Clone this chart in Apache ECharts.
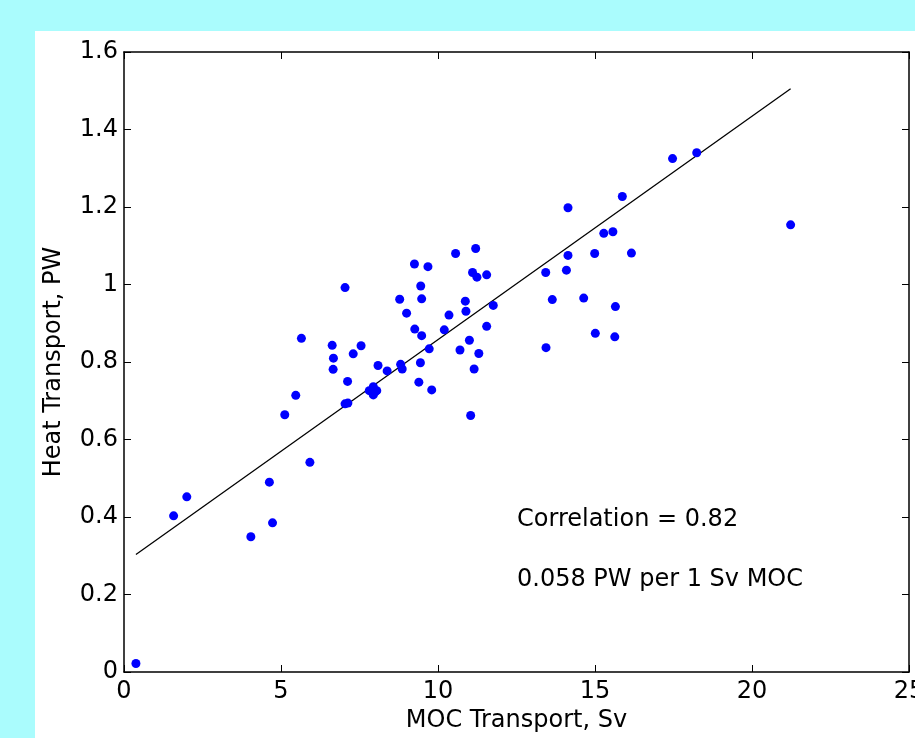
<!DOCTYPE html>
<html>
<head>
<meta charset="utf-8">
<title>MOC vs Heat Transport</title>
<script src="https://cdn.jsdelivr.net/npm/echarts@6/dist/echarts.min.js"></script>
<style>
	html, body { margin: 0; padding: 0; background: #aafcfd; }
	#main { width: 915px; height: 738px; }
</style>
</head>
<body>
<div id="main"></div>
<script>
// MOC transport (Sv) and heat transport (PW) for each point
var mocSv = [0.38, 1.58, 2.0, 4.04, 4.63, 4.73, 5.12, 5.47, 5.92, 5.65,
	6.63, 6.67, 6.66, 7.04, 7.30, 7.55, 7.12, 7.04, 7.13, 7.81,
	7.94, 8.0, 7.94, 8.05, 8.09, 8.38, 8.78, 8.81, 8.86, 9.0,
	9.25, 9.68, 9.45, 9.48, 9.26, 9.48, 9.44, 9.39, 9.72, 9.8,
	10.2, 10.35, 10.56, 10.7, 10.87, 10.89, 11.0, 11.04, 11.1, 11.2,
	11.24, 11.15, 11.3, 11.55, 11.55, 11.76, 13.43, 13.44, 13.64, 14.09,
	14.14, 14.14, 14.64, 14.99, 15.01, 15.28, 15.57, 15.65, 15.63, 15.87,
	16.16, 17.47, 18.24, 21.23];
var heatPW = [0.022, 0.403, 0.452, 0.349, 0.490, 0.385, 0.664, 0.714, 0.541, 0.861,
	0.843, 0.810, 0.781, 0.992, 0.821, 0.842, 0.750, 0.692, 0.694, 0.726,
	0.736, 0.723, 0.715, 0.726, 0.791, 0.777, 0.962, 0.794, 0.782, 0.926,
	1.053, 1.046, 0.996, 0.963, 0.885, 0.868, 0.798, 0.748, 0.834, 0.728,
	0.883, 0.921, 1.080, 0.831, 0.957, 0.931, 0.856, 0.662, 1.031, 1.093,
	1.019, 0.782, 0.822, 1.025, 0.892, 0.946, 1.031, 0.837, 0.961, 1.037,
	1.075, 1.198, 0.965, 1.080, 0.874, 1.132, 1.136, 0.943, 0.865, 1.227,
	1.081, 1.325, 1.340, 1.154];

// regression line end points
var fitX = [0.38, 21.23];
var fitY = [0.303, 1.505];

var xTicks = [0, 5, 10, 15, 20, 25];
var yTicks = [0, 0.2, 0.4, 0.6, 0.8, 1, 1.2, 1.4, 1.6];

var notes = ['Correlation = 0.82', '0.058 PW per 1 Sv MOC'];

(function() {
	var myChart = echarts.init(document.getElementById('main'));

	var points = mocSv.map(function(x, i) { return [x, heatPW[i]]; });
	var fitLine = fitX.map(function(x, i) { return [x, fitY[i]]; });

	var font = 'DejaVu Sans';
	var lineStyle = { color: '#000', width: 1.5 };

	function axisX(pos, showLabel) {
		return {
			type: 'value',
			position: pos,
			min: xTicks[0],
			max: xTicks[xTicks.length - 1],
			interval: xTicks[1] - xTicks[0],
			splitLine: { show: false },
			axisLine: { show: true, onZero: false, lineStyle: lineStyle },
			axisTick: { show: true, inside: true, length: 7, lineStyle: { color: '#000', width: 1 } },
			axisLabel: { show: showLabel, color: '#000', fontFamily: font, fontSize: 24, margin: 8 }
		};
	}

	function axisY(pos, showLabel) {
		return {
			type: 'value',
			position: pos,
			min: yTicks[0],
			max: yTicks[yTicks.length - 1],
			interval: 0.2,
			splitLine: { show: false },
			axisLine: { show: true, onZero: false, lineStyle: lineStyle },
			axisTick: { show: true, inside: true, length: 7, lineStyle: { color: '#000', width: 1 } },
			axisLabel: { show: showLabel, color: '#000', fontFamily: font, fontSize: 24, margin: 6 }
		};
	}

	var xMain = axisX('bottom', true);
	xMain.name = 'MOC Transport, Sv';
	xMain.nameLocation = 'middle';
	xMain.nameGap = 34;
	xMain.nameTextStyle = { color: '#000', fontFamily: font, fontSize: 24 };

	var yMain = axisY('left', true);
	yMain.name = 'Heat Transport, PW';
	yMain.nameLocation = 'middle';
	yMain.nameGap = 58;
	yMain.nameTextStyle = { color: '#000', fontFamily: font, fontSize: 24 };

	var option = {
		backgroundColor: '#aafcfd',
		animation: false,
		graphic: [{
			type: 'rect',
			z: -10,
			shape: { x: 35, y: 31, width: 880, height: 707 },
			style: { fill: '#fff' }
		}, {
			type: 'text',
			left: 517,
			top: 508,
			style: { text: notes[0], fill: '#000', font: '24px "DejaVu Sans"' }
		}, {
			type: 'text',
			left: 517,
			top: 568,
			style: { text: notes[1], fill: '#000', font: '24px "DejaVu Sans"' }
		}],
		grid: { left: 124, right: 6, top: 52, bottom: 66, containLabel: false, outerBoundsMode: 'none' },
		xAxis: [xMain, axisX('top', false)],
		yAxis: [yMain, axisY('right', false)],
		series: [{
			type: 'line',
			data: fitLine,
			symbol: 'none',
			lineStyle: { color: '#000', width: 1.3 },
			z: 3
		}, {
			type: 'scatter',
			data: points,
			symbolSize: 9,
			itemStyle: { color: '#0000ff', opacity: 1 },
			z: 4
		}]
	};

	myChart.setOption(option);
	window.addEventListener('resize', function() {
		myChart.resize();
	});
})();
</script>
</body>
</html>
